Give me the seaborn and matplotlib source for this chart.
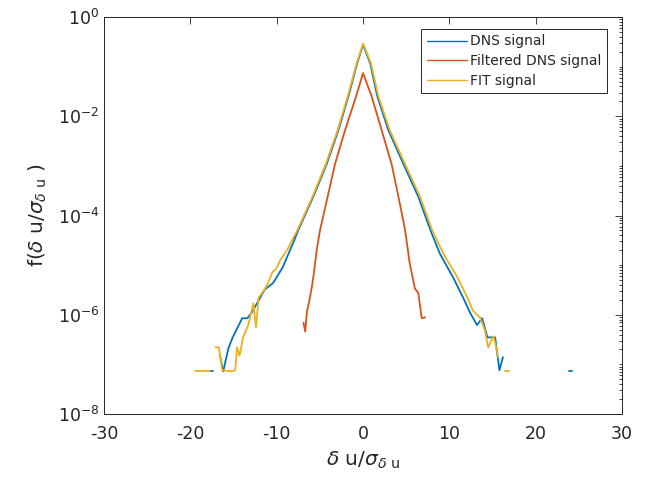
import numpy as np
import pandas as pd
import matplotlib
matplotlib.use("Agg")
import matplotlib.pyplot as plt
import matplotlib.ticker as mticker
import seaborn as sns

# values (nan = gap, no counts)
dns_x = [-17.7, -17.4, np.nan, -16.6, -16.2, -15.6, -15.1, -14.0, -13.4, -12.9, -12.2,
         -11.4, -10.4, -9.3, -8.1, -7.5, -5.76, -4.2, -2.86, -1.7, -0.66, 0.0, 0.81,
         1.66, 2.94, 4.67, 6.4, 7.8, 8.9, 10.4, 11.6, 12.4, 13.2, 13.8, 14.4, 15.3,
         15.8, 16.2, np.nan, 23.8, 24.2]
dns_f = [7.2e-8, 7.2e-8, np.nan, 1.6e-7, 7.2e-8, 2.1e-7, 3.5e-7, 8.5e-7, 8.5e-7, 1.1e-6,
         1.8e-6, 3.2e-6, 4.4e-6, 9.1e-6, 2.8e-5, 5.1e-5, 2.4e-4, 1.1e-3, 5.2e-3, 2.5e-2,
         1.2e-1, 2.75e-1, 1.2e-1, 2.5e-2, 5.2e-3, 1.1e-3, 2.4e-4, 5.1e-5, 1.7e-5, 5.8e-6,
         2.2e-6, 1.1e-6, 6.2e-7, 8.5e-7, 3.5e-7, 3.5e-7, 7.6e-8, 1.4e-7, np.nan, 7.2e-8, 7.2e-8]

filt_x = [-6.9, -6.7, -6.5, -6.2, -5.95, -5.75, -5.37, -4.98, -4.1, -3.24, -2.09, -0.81,
          0.0, 1.0, 2.16, 3.3, 4.1, 4.87, 5.4, 6.0, 6.4, 6.8, 7.2]
filt_f = [6.9e-7, 4.6e-7, 1.15e-6, 2.0e-6, 3.5e-6, 5.8e-6, 2.0e-5, 5.1e-5, 2.4e-4, 1.1e-3,
          5.2e-3, 2.5e-2, 7.4e-2, 2.5e-2, 5.2e-3, 1.1e-3, 2.4e-4, 5.1e-5, 1.1e-5, 3.4e-6,
          2.75e-6, 8.5e-7, 8.9e-7]

fit_x = [-19.5, -17.7, np.nan, -17.1, -16.7, -16.3, -15.2, -14.8, -14.6, -14.3, -13.9,
         -13.3, -12.7, -12.4, -12.1, -11.6, -11.1, -10.5, -10.0, -9.6, -8.8, -8.1, -7.6,
         -5.85, -4.3, -2.95, -1.78, -0.72, 0.0, 0.9, 1.78, 3.1, 4.85, 6.6, 8.0, 9.3, 10.9,
         12.1, 12.7, 13.6, 14.1, 14.5, 15.1, 15.5, 15.6, np.nan, 16.5, 16.9]
fit_f = [7.2e-8, 7.2e-8, np.nan, 2.2e-7, 2.2e-7, 7.6e-8, 7.2e-8, 7.6e-8, 2.2e-7, 1.5e-7,
         3.5e-7, 6.2e-7, 1.7e-6, 5.6e-7, 2.2e-6, 2.9e-6, 4.0e-6, 7.2e-6, 8.7e-6, 1.26e-5,
         2.0e-5, 3.5e-5, 5.1e-5, 2.4e-4, 1.1e-3, 5.2e-3, 2.5e-2, 1.2e-1, 2.9e-1, 1.2e-1,
         2.5e-2, 5.2e-3, 1.1e-3, 2.4e-4, 5.1e-5, 1.7e-5, 5.8e-6, 2.2e-6, 1.23e-6, 8.5e-7,
         4.9e-7, 2.2e-7, 3.7e-7, 1.95e-7, 1.4e-7, np.nan, 7.2e-8, 7.2e-8]

series = [
    ("DNS signal", dns_x, dns_f, "#0072BD"),
    ("Filtered DNS signal", filt_x, filt_f, "#D95319"),
    ("FIT signal", fit_x, fit_f, "#EDB120"),
]

sns.set_style("white")
plt.rcParams["font.family"] = ["DejaVu Sans"]
plt.rcParams["axes.unicode_minus"] = False

fig = plt.figure(figsize=(6.51, 4.84), dpi=100)
ax = fig.add_axes([0.1598, 0.1446, 0.7957, 0.8203])

for name, xs, fs, col in series:
    df = pd.DataFrame({"x": xs, "f": fs})
    # split into pieces where the histogram had no counts
    seg = df["x"].isna().cumsum()
    first = True
    for _, part in df.dropna().groupby(seg[df["x"].notna()]):
        sns.lineplot(data=part, x="x", y="f", ax=ax, color=col, lw=1.3,
                     sort=False, estimator=None, label=name if first else None,
                     legend=False)
        first = False

ax.set_yscale("log")
ax.set_xlim(-30, 30)
ax.set_ylim(1e-8, 1)
ax.set_xticks([-30, -20, -10, 0, 10, 20, 30])
ax.yaxis.set_major_locator(mticker.FixedLocator([1e-8, 1e-6, 1e-4, 1e-2, 1]))
ax.yaxis.set_major_formatter(mticker.LogFormatterMathtext())
ax.yaxis.set_minor_locator(mticker.LogLocator(base=10, subs=np.arange(1, 10), numticks=20))
ax.yaxis.set_minor_formatter(mticker.NullFormatter())

ax.tick_params(which="both", direction="in", top=True, right=True, colors="#262626",
               labelsize=12.5, width=0.6)
ax.tick_params(which="major", length=5)
ax.tick_params(which="minor", length=2.5)
ax.tick_params(axis="x", pad=8)
for sp in ax.spines.values():
    sp.set_color("#262626")
    sp.set_linewidth(0.7)

ax.set_xlabel(r"$\delta$ u/$\sigma_{\delta\ \mathrm{u}}$", fontsize=14.5, color="#262626",
              labelpad=5)
ax.set_ylabel(r"f($\delta$ u/$\sigma_{\delta\ \mathrm{u}}$ )", fontsize=14.5, color="#262626",
              labelpad=6)

leg = ax.legend(loc="upper right", bbox_to_anchor=(0.971, 0.970), borderaxespad=0,
                fontsize=10, fancybox=False, framealpha=1, edgecolor="#262626",
                handlelength=2.9, labelspacing=0.4, borderpad=0.4, handletextpad=0.2)
leg.get_frame().set_linewidth(0.7)
for ln in leg.get_lines():
    ln.set_linewidth(1.0)

fig.savefig("out.png", dpi=100)
